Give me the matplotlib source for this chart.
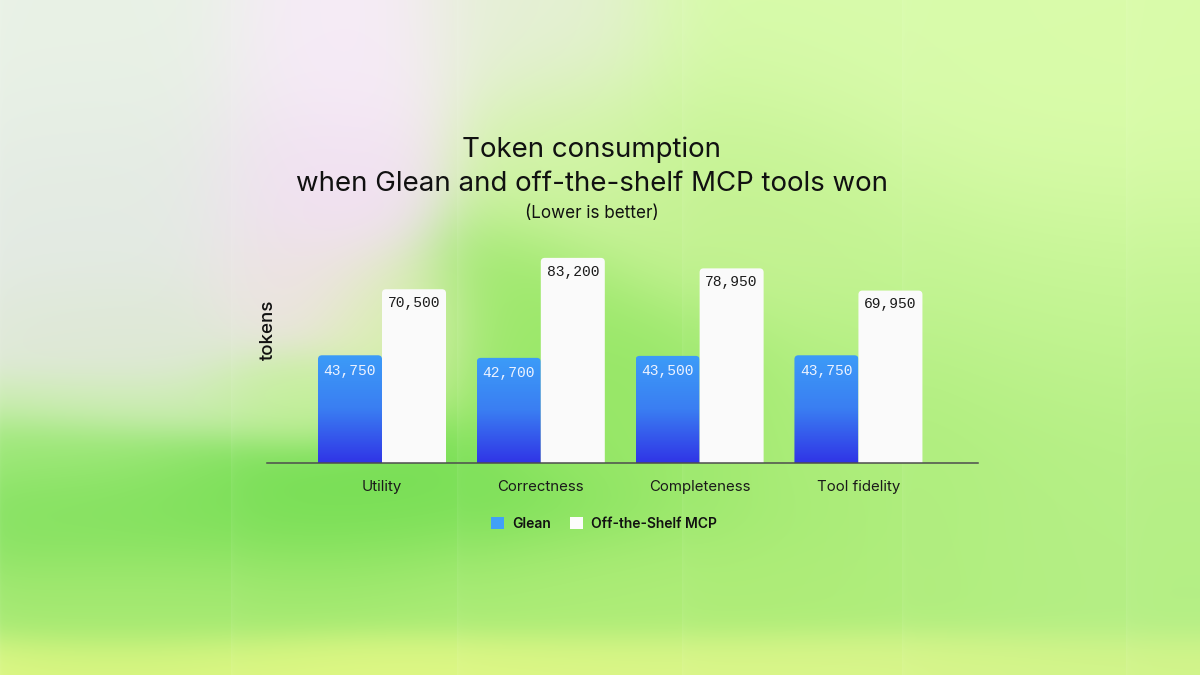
import numpy as np
import matplotlib
matplotlib.use("Agg")
import matplotlib.pyplot as plt
from matplotlib.path import Path
from matplotlib.patches import PathPatch, Patch
from matplotlib.colors import to_rgb, LinearSegmentedColormap

# ---------------- data ----------------
categories = ["Utility", "Correctness", "Completeness", "Tool fidelity"]
glean_tokens = [43750, 42700, 43500, 43750]
offshelf_tokens = [70500, 83200, 78950, 69950]
series_names = ["Glean", "Off-the-Shelf MCP"]
title_lines = "Token consumption\nwhen Glean and off-the-shelf MCP tools won"
subtitle = "(Lower is better)"
y_label = "tokens"

plt.rcParams["font.family"] = ["Inter", "DejaVu Sans"]

W, H = 1200, 675
fig = plt.figure(figsize=(12, 6.75), dpi=100)

# ---------------- background (decorative gradient) ----------------
yy, xx = np.mgrid[0:H, 0:W].astype(float)
anchors = [
    # x, y, color, sx, sy
    (100, 40, "#e9f2e6", 90, 90),
    (110, 220, "#e3eae3", 90, 90),
    (120, 340, "#dde8d2", 80, 40),
    (110, 405, "#cfeeb4", 90, 22),
    (60, 450, "#a4ea7e", 80, 25),
    (340, 50, "#f6ebf7", 70, 70),
    (320, 190, "#f1e0f1", 70, 60),
    (290, 290, "#ede3e0", 50, 40),
    (390, 320, "#dcefb4", 50, 40),
    (300, 395, "#c6f09c", 60, 30),
    (540, 30, "#e6efd8", 70, 60),
    (560, 160, "#d2f4a6", 60, 60),
    (520, 310, "#9ce86a", 60, 60),
    (640, 400, "#93e664", 70, 60),
    (750, 200, "#c4f292", 100, 80),
    (850, 40, "#d8fbab", 140, 80),
    (1100, 100, "#dafcaa", 120, 110),
    (1050, 320, "#c2f492", 150, 100),
    (300, 515, "#79df56", 200, 50),
    (80, 500, "#8ee468", 90, 40),
    (850, 450, "#a9ec76", 150, 80),
    (1100, 520, "#b5ef86", 140, 90),
    (600, 590, "#b0ed79", 220, 40),
    (150, 600, "#a8ea74", 120, 40),
    (300, 665, "#e2f884", 260, 20),
    (900, 665, "#dcf68c", 260, 20),
]
num = np.zeros((H, W, 3))
den = np.full((H, W), 1e-12)
for ax_, ay_, c, sx, sy in anchors:
    w = np.exp(-((xx - ax_) ** 2) / (2 * sx * sx) - ((yy - ay_) ** 2) / (2 * sy * sy))
    num += w[..., None] * np.array(to_rgb(c))
    den += w
img = num / den[..., None]
# vertical glass panels
edges = [0, 231, 457, 682, 902, 1126, W]
for i in range(len(edges) - 1):
    l, r_ = edges[i], edges[i + 1]
    d = np.clip(xx - l, 0, None)
    m = (xx >= l) & (xx < r_)
    hl = np.where(m, 0.03 * np.exp(-d / 20.0) + 0.04 * np.exp(-d / 1.5), 0.0)
    img = img + hl[..., None] * (1 - img)
img = np.clip(img, 0, 1)
bg = fig.add_axes([0, 0, 1, 1], zorder=-10)
bg.imshow(img, extent=[0, W, H, 0], aspect="auto", interpolation="bilinear")
bg.set_xlim(0, W)
bg.set_ylim(H, 0)
bg.axis("off")

# ---------------- main axes ----------------
ax_left, ax_right = 266.7, 977.7
base_y = 463.3
px_per_token = 1 / 405.0
ymax = 90000
ax_h = ymax * px_per_token
ax = fig.add_axes([ax_left / W, (H - base_y) / H, (ax_right - ax_left) / W, ax_h / H])
ax.patch.set_alpha(0)

x = np.arange(len(categories))
bw = 0.403
ax.set_xlim(-0.726, 3.751)
ax.set_ylim(0, ymax)

b1 = ax.bar(x - bw / 2, glean_tokens, bw, color="none", edgecolor="none")
b2 = ax.bar(x + bw / 2, offshelf_tokens, bw, color="none", edgecolor="none")

# corner radius in data units (4 px)
xr = (ax_right - ax_left) / (ax.get_xlim()[1] - ax.get_xlim()[0])
rx = 4.0 / xr
ry = 4.0 / px_per_token


def rounded_top(rect):
    x0, y0 = rect.get_x(), rect.get_y()
    x1, y1 = x0 + rect.get_width(), y0 + rect.get_height()
    verts = [(x0, y0), (x0, y1 - ry), (x0, y1), (x0 + rx, y1), (x1 - rx, y1),
             (x1, y1), (x1, y1 - ry), (x1, y0), (x0, y0)]
    codes = [Path.MOVETO, Path.LINETO, Path.CURVE3, Path.CURVE3, Path.LINETO,
             Path.CURVE3, Path.CURVE3, Path.LINETO, Path.CLOSEPOLY]
    return Path(verts, codes)


mono = ["Liberation Mono", "DejaVu Sans Mono"]
blue_cmap = LinearSegmentedColormap.from_list("bl", ["#3034e6", "#3a7ef2", "#3c9cf8"])
grad = np.linspace(0, 1, 256).reshape(-1, 1)
for r in b1:
    p = PathPatch(rounded_top(r), facecolor="none", edgecolor="none")
    ax.add_patch(p)
    x0, y0 = r.get_x(), r.get_y()
    im = ax.imshow(grad, extent=[x0, x0 + r.get_width(), y0, y0 + r.get_height()],
                   origin="lower", aspect="auto", cmap=blue_cmap, zorder=2)
    im.set_clip_path(p)
    ax.annotate(f"{r.get_height():,.0f}", (x0 + r.get_width() / 2, y0 + r.get_height()),
                xytext=(0, -11), textcoords="offset points", ha="center", va="center",
                color="#eef3ff", fontsize=10.5, family=mono, zorder=4)
for r in b2:
    p = PathPatch(rounded_top(r), facecolor="#fafafa", edgecolor="none", zorder=2)
    ax.add_patch(p)
    x0, y0 = r.get_x(), r.get_y()
    ax.annotate(f"{r.get_height():,.0f}", (x0 + r.get_width() / 2, y0 + r.get_height()),
                xytext=(0, -10), textcoords="offset points", ha="center", va="center",
                color="#1a1a1a", fontsize=10.5, family=mono, zorder=4)

ax.set_xlim(-0.726, 3.751)
ax.set_ylim(0, ymax)
ax.set_aspect("auto")

for s in ["top", "right", "left"]:
    ax.spines[s].set_visible(False)
ax.spines["bottom"].set_color("#4d4d4d")
ax.spines["bottom"].set_linewidth(1.1)
ax.spines["bottom"].set_zorder(3)
ax.set_yticks([])
ax.set_xticks(x)
ax.set_xticklabels(categories, fontsize=10.8, color="#1a1a1a")
ax.tick_params(axis="x", length=0, pad=12)

ax.text((268 - ax_left) / (ax_right - ax_left), (base_y - 330) / ax_h, y_label,
        transform=ax.transAxes, rotation=90, ha="center", va="center",
        fontsize=13.5, fontweight="medium", color="#111111")

# ---------------- titles ----------------
fig.text(592 / W, 1 - 167 / H, title_lines, ha="center", va="center",
         fontsize=19.9, color="#111111", linespacing=1.38)
fig.text(592 / W, 1 - 213 / H, subtitle, ha="center", va="center",
         fontsize=12.3, color="#111111")

# ---------------- legend ----------------
handles = [Patch(facecolor="#40a0f8", edgecolor="none"),
           Patch(facecolor="#fcfcfc", edgecolor="none")]
leg = fig.legend(handles, series_names, loc="center", bbox_to_anchor=(604 / W, 1 - 524 / H),
                 ncol=2, frameon=False, handlelength=0.9, handleheight=0.9,
                 handletextpad=0.6, columnspacing=1.4,
                 prop={"size": 10, "weight": "semibold"})
for t in leg.get_texts():
    t.set_color("#111111")

fig.savefig("out.png", dpi=100)
